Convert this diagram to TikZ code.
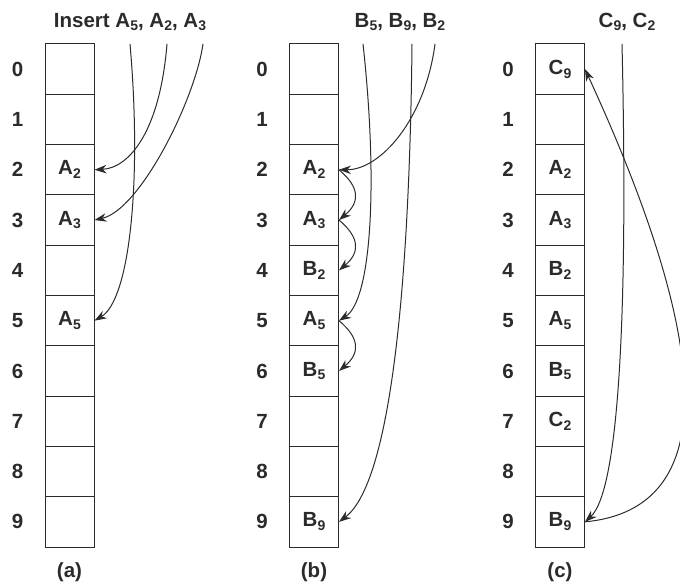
\documentclass[tikz,border=0pt]{standalone}
\usepackage{fontspec}
\setmainfont{Liberation Sans}[BoldFont={Liberation Sans Bold}]
\usetikzlibrary{arrows.meta,positioning}
\definecolor{ink}{HTML}{2B2B2B}
\newcommand\subs[1]{\raisebox{-0.35ex}{\fontsize{14}{14}\selectfont#1}}

\begin{document}
\begin{tikzpicture}[x=1pt,y=-1pt,>={Stealth[length=12pt,width=8.5pt]},
  font=\bfseries\fontsize{20.5}{24}\selectfont,color=ink,
  cell/.style={draw=ink,line width=1pt,minimum width=49pt,minimum height=50.3pt,inner sep=0pt},
  idx/.style={inner sep=0pt},
  link/.style={->,line width=1pt}]
  \useasboundingbox (0,0) rectangle (680,585);
  \def\H{50.3}

  % (a) table after inserting A5, A2, A3
  \foreach \i/\v in {0/{},1/{},2/A\subs2,3/A\subs3,4/{},5/A\subs5,6/{},7/{},8/{},9/{}}{
    \node[cell] (a\i) at (69.5,{44+\H*(\i+0.5)}) {\v};
    \node[idx,left=21pt of a\i] (na\i) {\i};
  }
  % (b) B-keys collide and probe downwards
  \foreach \i/\v in {0/{},1/{},2/A\subs2,3/A\subs3,4/B\subs2,5/A\subs5,6/B\subs5,7/{},8/{},9/B\subs9}{
    \node[cell] (b\i) at (314,{44+\H*(\i+0.5)}) {\v};
    \node[idx,left=21pt of b\i] (nb\i) {\i};
  }
  % (c) C9 wraps around to slot 0
  \foreach \i/\v in {0/C\subs9,1/{},2/A\subs2,3/A\subs3,4/B\subs2,5/A\subs5,6/B\subs5,7/C\subs2,8/{},9/B\subs9}{
    \node[cell] (c\i) at (560,{44+\H*(\i+0.5)}) {\v};
    \node[idx,left=21pt of c\i] (nc\i) {\i};
  }

  % headings and captions
  \node (ta) at (130,22) {Insert A\subs5, A\subs2, A\subs3};
  \node (tb) at (400,22) {B\subs5, B\subs9, B\subs2};
  \node (tc) at (627,22) {C\subs9, C\subs2};
  \node (la) at (69.5,572) {(a)};
  \node (lb) at (314,572) {(b)};
  \node (lc) at (560,572) {(c)};

  % where each insertion line starts
  \coordinate (inA5) at (130,44);
  \coordinate (inA2) at (167,44);
  \coordinate (inA3) at (203,44);
  \coordinate (inB5) at (363,44);
  \coordinate (inB9) at (412,44);
  \coordinate (inB2) at (435,44);
  \coordinate (inC)  at (622,44);

  % (a) straight hits
  \draw[link] (inA5) .. controls (142,180) and (130,300) .. (a5.east);
  \draw[link] (inA2) .. controls (160,130) and (130,168) .. (a2.east);
  \draw[link] (inA3) .. controls (195,100) and (140,210) .. (a3.east);

  % (b) hits plus linear probing
  \draw[link] (inB5) .. controls (378,180) and (372,300) .. (b5.east);
  \draw[link] (inB9) .. controls (410,250) and (395,480) .. (b9.east);
  \draw[link] (inB2) .. controls (425,120) and (380,170) .. (b2.east);
  \draw[link] (b2.east) to[out=-40,in=40,looseness=1.4] (b3.east);
  \draw[link] (b3.east) to[out=-40,in=40,looseness=1.4] (b4.east);
  \draw[link] (b5.east) to[out=-40,in=40,looseness=1.4] (b6.east);

  % (c) slot 9 taken, wrap to the top
  \draw[link] (inC) .. controls (628,300) and (620,490) .. (c9.east);
  \draw[link] (c9.east) .. controls (690,512) and (742,410) .. (c0.east);
\end{tikzpicture}
\end{document}
